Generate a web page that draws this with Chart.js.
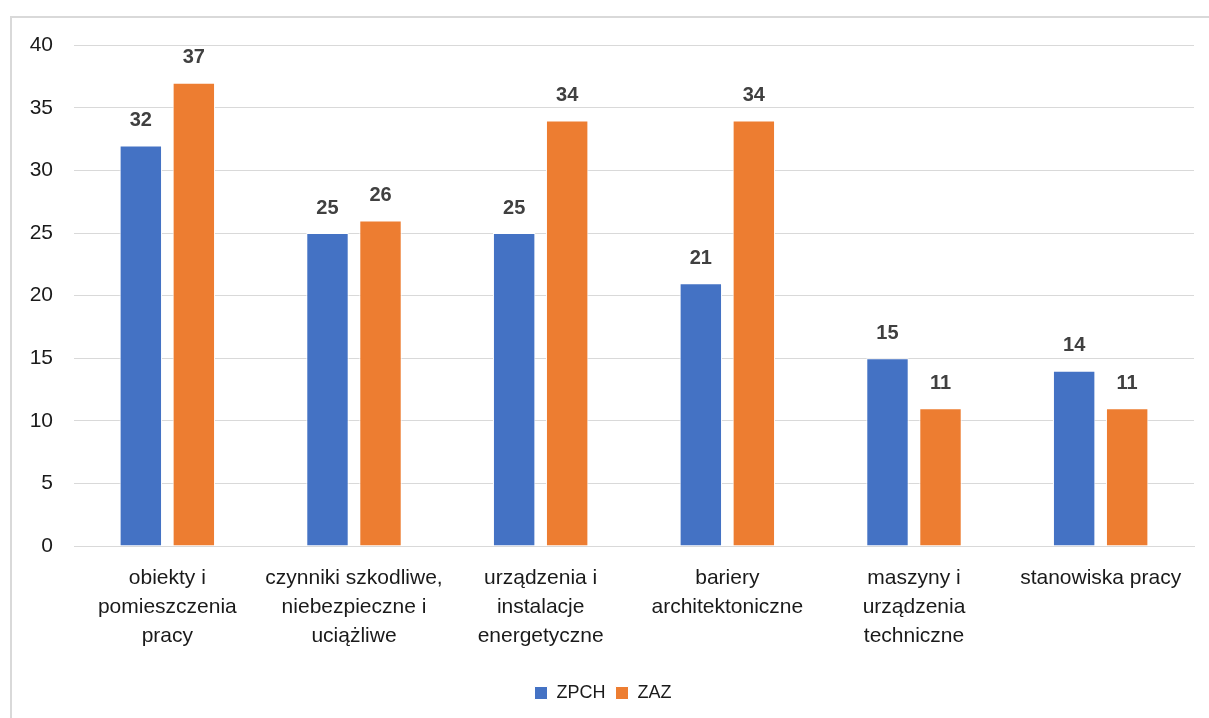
<!DOCTYPE html>
<html>
<head>
<meta charset="utf-8">
<script src="https://cdn.jsdelivr.net/npm/chart.js@4"></script>
<style>
  body { margin: 0; background: #fff; overflow: hidden; }
  #box { position: absolute; left: 10px; top: 16px; width: 1203px; height: 712px; border: 2px solid #d9d9d9; box-sizing: border-box; }
  #chart { display: block; }
</style>
</head>
<body>
<div id="box"><canvas id="chart" width="1199" height="708"></canvas></div>
<script>
let kategorie = [
  ['obiekty i', 'pomieszczenia', 'pracy'],
  ['czynniki szkodliwe,', 'niebezpieczne i', 'uciążliwe'],
  ['urządzenia i', 'instalacje', 'energetyczne'],
  ['bariery', 'architektoniczne'],
  ['maszyny i', 'urządzenia', 'techniczne'],
  ['stanowiska pracy']
];
let zpch = [32, 25, 25, 21, 15, 14];
let zaz = [37, 26, 34, 34, 11, 11];
let yTicks = [0, 5, 10, 15, 20, 25, 30, 35, 40];

let font = "'Liberation Sans', Arial, sans-serif";

// etykiety wartości nad słupkami
let etykiety = {
  id: 'etykiety',
  afterDatasetsDraw(chart) {
    let ctx = chart.ctx;
    ctx.save();
    ctx.font = 'bold 20px ' + font;
    ctx.fillStyle = '#404040';
    ctx.textAlign = 'center';
    ctx.textBaseline = 'middle';
    chart.data.datasets.forEach((ds, i) => {
      chart.getDatasetMeta(i).data.forEach((bar, j) => {
        ctx.fillText(ds.data[j], bar.x, bar.y - 25);
      });
    });
    ctx.restore();
  }
};

let ctx = document.getElementById('chart').getContext('2d');
let myChart = new Chart(ctx, {
  type: 'bar',
  data: {
    labels: kategorie,
    datasets: [
      { label: 'ZPCH', data: zpch, backgroundColor: '#4472C4', borderColor: '#ffffff', borderWidth: 1 },
      { label: 'ZAZ', data: zaz, backgroundColor: '#ED7D31', borderColor: '#ffffff', borderWidth: 1 }
    ]
  },
  options: {
    responsive: false,
    animation: false,
    categoryPercentage: 0.568,
    barPercentage: 0.8,
    layout: { padding: { left: 0, right: 17, top: 25, bottom: 14 } },
    plugins: {
      tooltip: { enabled: false },
      legend: {
        position: 'bottom',
        labels: { font: { family: font, size: 18 }, color: '#1a1a1a', boxWidth: 13, boxHeight: 13, padding: 10 }
      }
    },
    scales: {
      x: {
        grid: { display: false, drawTicks: false },
        border: { color: '#d9d9d9' },
        ticks: { font: { family: font, size: 21, lineHeight: 1.38 }, color: '#1a1a1a', padding: 18, maxRotation: 0 },
        afterFit(scale) { scale.height = 128; }
      },
      y: {
        min: 0, max: 40,
        afterBuildTicks(scale) { scale.ticks = yTicks.map(v => ({ value: v })); },
        grid: { color: '#d9d9d9', drawTicks: false },
        border: { display: false },
        ticks: { font: { family: font, size: 21, lineHeight: 0.6 }, color: '#1a1a1a', padding: 21 },
        afterFit(scale) { scale.width = 62; }
      }
    }
  },
  plugins: [etykiety]
});
</script>
</body>
</html>
